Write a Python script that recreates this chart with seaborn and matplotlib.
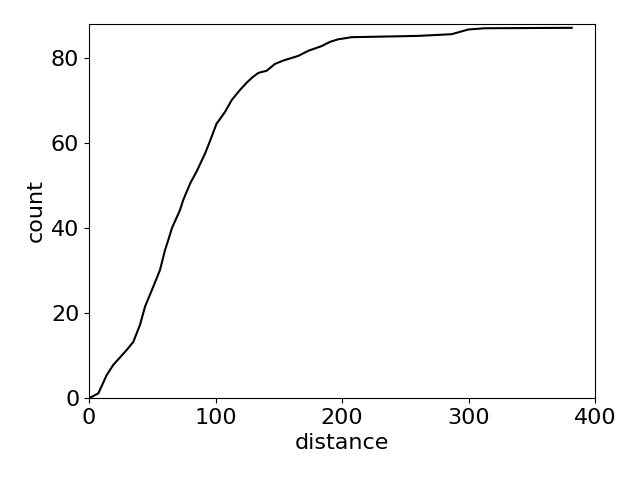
import matplotlib
matplotlib.use('Agg')
import matplotlib.pyplot as plt
import pandas as pd
import seaborn as sns

# cumulative count vs distance
distance = [0, 0.8, 7.4, 14.0, 19.2, 29.8, 35.0, 40.3, 44.3, 50.8, 56.1, 60.1,
            62.7, 65.6, 71.9, 74.5, 80.0, 85.4, 91.7, 95.7, 100.9, 102,
            107.5, 112.8, 119.4, 124.7, 129, 133.9, 140.4, 147, 153.6, 165.5,
            173.4, 183.9, 190.5, 197, 207.7, 260, 286.7, 299.8, 313, 381.6]
count = [0, 0.07, 1.1, 5.4, 7.8, 11.3, 13.2, 17.2, 21.5, 26.2, 30.1, 34.8,
         37.2, 40.0, 44.2, 46.6, 50.5, 53.5, 57.5, 60.5, 64.6, 65.0,
         67.3, 70.1, 72.5, 74.2, 75.4, 76.5, 77.0, 78.6, 79.4, 80.5,
         81.7, 82.8, 83.8, 84.4, 84.9, 85.2, 85.6, 86.7, 87.0, 87.1]

df = pd.DataFrame({'distance': distance, 'count': count})

plt.rcParams['font.size'] = 16
fig, ax = plt.subplots(figsize=(6.4, 4.8), dpi=100)
sns.lineplot(data=df, x='distance', y='count', color='black', ax=ax)
ax.set_xlim(0, 400)
ax.set_ylim(0, 88)
fig.subplots_adjust(left=89 / 640, right=595 / 640, top=1 - 24 / 480, bottom=1 - 398 / 480)
fig.savefig('out.png')
